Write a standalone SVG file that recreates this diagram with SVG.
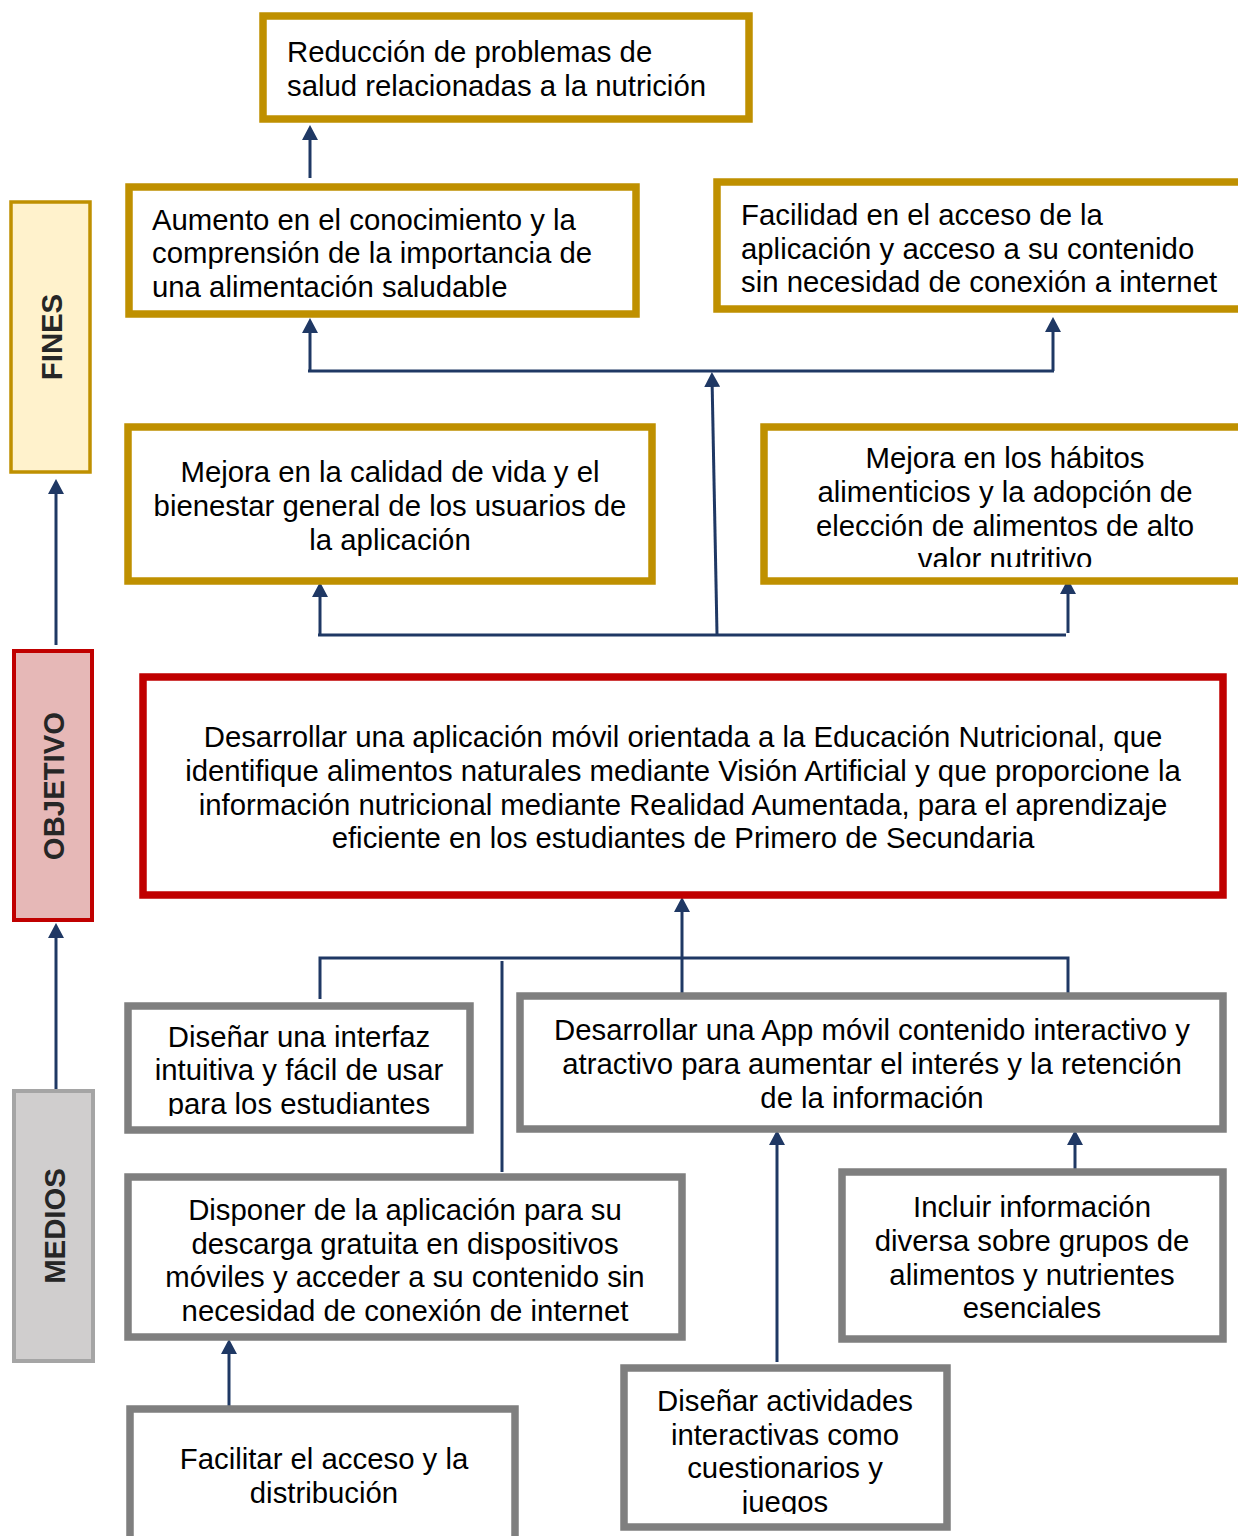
<svg xmlns="http://www.w3.org/2000/svg" width="1238" height="1536" viewBox="0 0 1238 1536">
<style>
.bg{fill:#ffffff}
.gold{fill:#ffffff;stroke:#BF9000;stroke-width:7.5}
.red{fill:#ffffff;stroke:#C00000;stroke-width:7.5}
.gray{fill:#ffffff;stroke:#7F7F7F;stroke-width:7.5}
.t{font-family:"Liberation Sans",Arial,sans-serif;font-size:29.33px;fill:#000000}
.c{text-anchor:middle}
.side{font-family:"Liberation Sans",Arial,sans-serif;font-size:29.33px;font-weight:bold;fill:#262626;text-anchor:middle;dominant-baseline:central}
.con{fill:none;stroke:#1F3864;stroke-width:3}
</style>
<defs>
<marker id="ah" viewBox="0 0 15 16" refX="10" refY="8" markerWidth="15" markerHeight="16" markerUnits="userSpaceOnUse" orient="auto">
<path d="M0,0 L15,8 L0,16 z" fill="#1F3864"/>
</marker>
<clipPath id="clipHab"><rect x="760" y="420" width="478" height="147"/></clipPath>
<clipPath id="clipInt"><rect x="120" y="1000" width="360" height="116"/></clipPath>
<clipPath id="clipAct"><rect x="615" y="1360" width="340" height="154"/></clipPath>
</defs>
<rect class="bg" x="0" y="0" width="1238" height="1536"/>

<g id="side-fines">
<rect x="11" y="202" width="79" height="270" fill="#FFF2CC" stroke="#BF9000" stroke-width="3.5"/>
<text class="side" transform="translate(51,337) rotate(-90)">FINES</text>
</g>
<g id="side-objetivo">
<rect x="14" y="651" width="78" height="269" fill="#E6B8B7" stroke="#C00000" stroke-width="4"/>
<text class="side" transform="translate(53,786) rotate(-90)">OBJETIVO</text>
</g>
<g id="side-medios">
<rect x="14" y="1091" width="79" height="270" fill="#D0CECE" stroke="#A5A5A5" stroke-width="4"/>
<text class="side" transform="translate(54,1226) rotate(-90)">MEDIOS</text>
</g>

<g id="connectors">
<path class="con" d="M310,178 V130" marker-end="url(#ah)"/>
<path class="con" d="M308,371 H1054"/>
<path class="con" d="M310,371 V323" marker-end="url(#ah)"/>
<path class="con" d="M1053,371 V322" marker-end="url(#ah)"/>
<path class="con" d="M717,634 L712,377" marker-end="url(#ah)"/>
<path class="con" d="M318,635 H1066"/>
<path class="con" d="M320,635 V587" marker-end="url(#ah)"/>
<path class="con" d="M1068,633 V584" marker-end="url(#ah)"/>
<path class="con" d="M56,645 V484" marker-end="url(#ah)"/>
<path class="con" d="M56,1089 V928" marker-end="url(#ah)"/>
<path class="con" d="M320,999 V958 H1068 V999"/>
<path class="con" d="M682,999 V902" marker-end="url(#ah)"/>
<path class="con" d="M502,961 V1172"/>
<path class="con" d="M777,1362 V1135" marker-end="url(#ah)"/>
<path class="con" d="M1075,1172 V1135" marker-end="url(#ah)"/>
<path class="con" d="M229,1408 V1344" marker-end="url(#ah)"/>
</g>

<g id="fin-reduccion">
<rect class="gold" x="263" y="16" width="486" height="103"/>
<text class="t" x="287" y="62">Reducción de problemas de</text>
<text class="t" x="287" y="96">salud relacionadas a la nutrición</text>
</g>
<g id="fin-aumento">
<rect class="gold" x="129" y="187" width="507" height="127"/>
<text class="t" x="152" y="230">Aumento en el conocimiento y la</text>
<text class="t" x="152" y="263">comprensión de la importancia de</text>
<text class="t" x="152" y="297">una alimentación saludable</text>
</g>
<g id="fin-facilidad">
<rect class="gold" x="717" y="182" width="600" height="127"/>
<text class="t" x="741" y="225">Facilidad en el acceso de la</text>
<text class="t" x="741" y="259">aplicación y acceso a su contenido</text>
<text class="t" x="741" y="292">sin necesidad de conexión a internet</text>
</g>
<g id="fin-calidad">
<rect class="gold" x="128" y="427" width="524" height="154"/>
<text class="t c" x="390" y="482">Mejora en la calidad de vida y el</text>
<text class="t c" x="390" y="516">bienestar general de los usuarios de</text>
<text class="t c" x="390" y="550">la aplicación</text>
</g>
<g id="fin-habitos">
<rect class="gold" x="764" y="427" width="600" height="154"/>
<g clip-path="url(#clipHab)">
<text class="t c" x="1005" y="468">Mejora en los hábitos</text>
<text class="t c" x="1005" y="502">alimenticios y la adopción de</text>
<text class="t c" x="1005" y="536">elección de alimentos de alto</text>
<text class="t c" x="1005" y="569">valor nutritivo</text>
</g>
</g>

<g id="objetivo">
<rect class="red" x="143" y="677" width="1080" height="218"/>
<text class="t c" x="683" y="747">Desarrollar una aplicación móvil orientada a la Educación Nutricional, que</text>
<text class="t c" x="683" y="781">identifique alimentos naturales mediante Visión Artificial y que proporcione la</text>
<text class="t c" x="683" y="815">información nutricional mediante Realidad Aumentada, para el aprendizaje</text>
<text class="t c" x="683" y="848">eficiente en los estudiantes de Primero de Secundaria</text>
</g>

<g id="medio-interfaz">
<rect class="gray" x="128" y="1006" width="342" height="124"/>
<g clip-path="url(#clipInt)">
<text class="t c" x="299" y="1047">Diseñar una interfaz</text>
<text class="t c" x="299" y="1080">intuitiva y fácil de usar</text>
<text class="t c" x="299" y="1114">para los estudiantes</text>
</g>
</g>
<g id="medio-app">
<rect class="gray" x="520" y="996" width="703" height="133"/>
<text class="t c" x="872" y="1040">Desarrollar una App móvil contenido interactivo y</text>
<text class="t c" x="872" y="1074">atractivo para aumentar el interés y la retención</text>
<text class="t c" x="872" y="1108">de la información</text>
</g>
<g id="medio-disponer">
<rect class="gray" x="128" y="1177" width="554" height="160"/>
<text class="t c" x="405" y="1220">Disponer de la aplicación para su</text>
<text class="t c" x="405" y="1254">descarga gratuita en dispositivos</text>
<text class="t c" x="405" y="1287">móviles y acceder a su contenido sin</text>
<text class="t c" x="405" y="1321">necesidad de conexión de internet</text>
</g>
<g id="medio-incluir">
<rect class="gray" x="842" y="1172" width="381" height="167"/>
<text class="t c" x="1032" y="1217">Incluir información</text>
<text class="t c" x="1032" y="1251">diversa sobre grupos de</text>
<text class="t c" x="1032" y="1285">alimentos y nutrientes</text>
<text class="t c" x="1032" y="1318">esenciales</text>
</g>
<g id="medio-facilitar">
<rect class="gray" x="130" y="1409" width="385" height="200"/>
<text class="t c" x="324" y="1469">Facilitar el acceso y la</text>
<text class="t c" x="324" y="1503">distribución</text>
</g>
<g id="medio-actividades">
<rect class="gray" x="624" y="1368" width="323" height="159"/>
<g clip-path="url(#clipAct)">
<text class="t c" x="785" y="1411">Diseñar actividades</text>
<text class="t c" x="785" y="1445">interactivas como</text>
<text class="t c" x="785" y="1478">cuestionarios y</text>
<text class="t c" x="785" y="1512">juegos</text>
</g>
</g>
</svg>
